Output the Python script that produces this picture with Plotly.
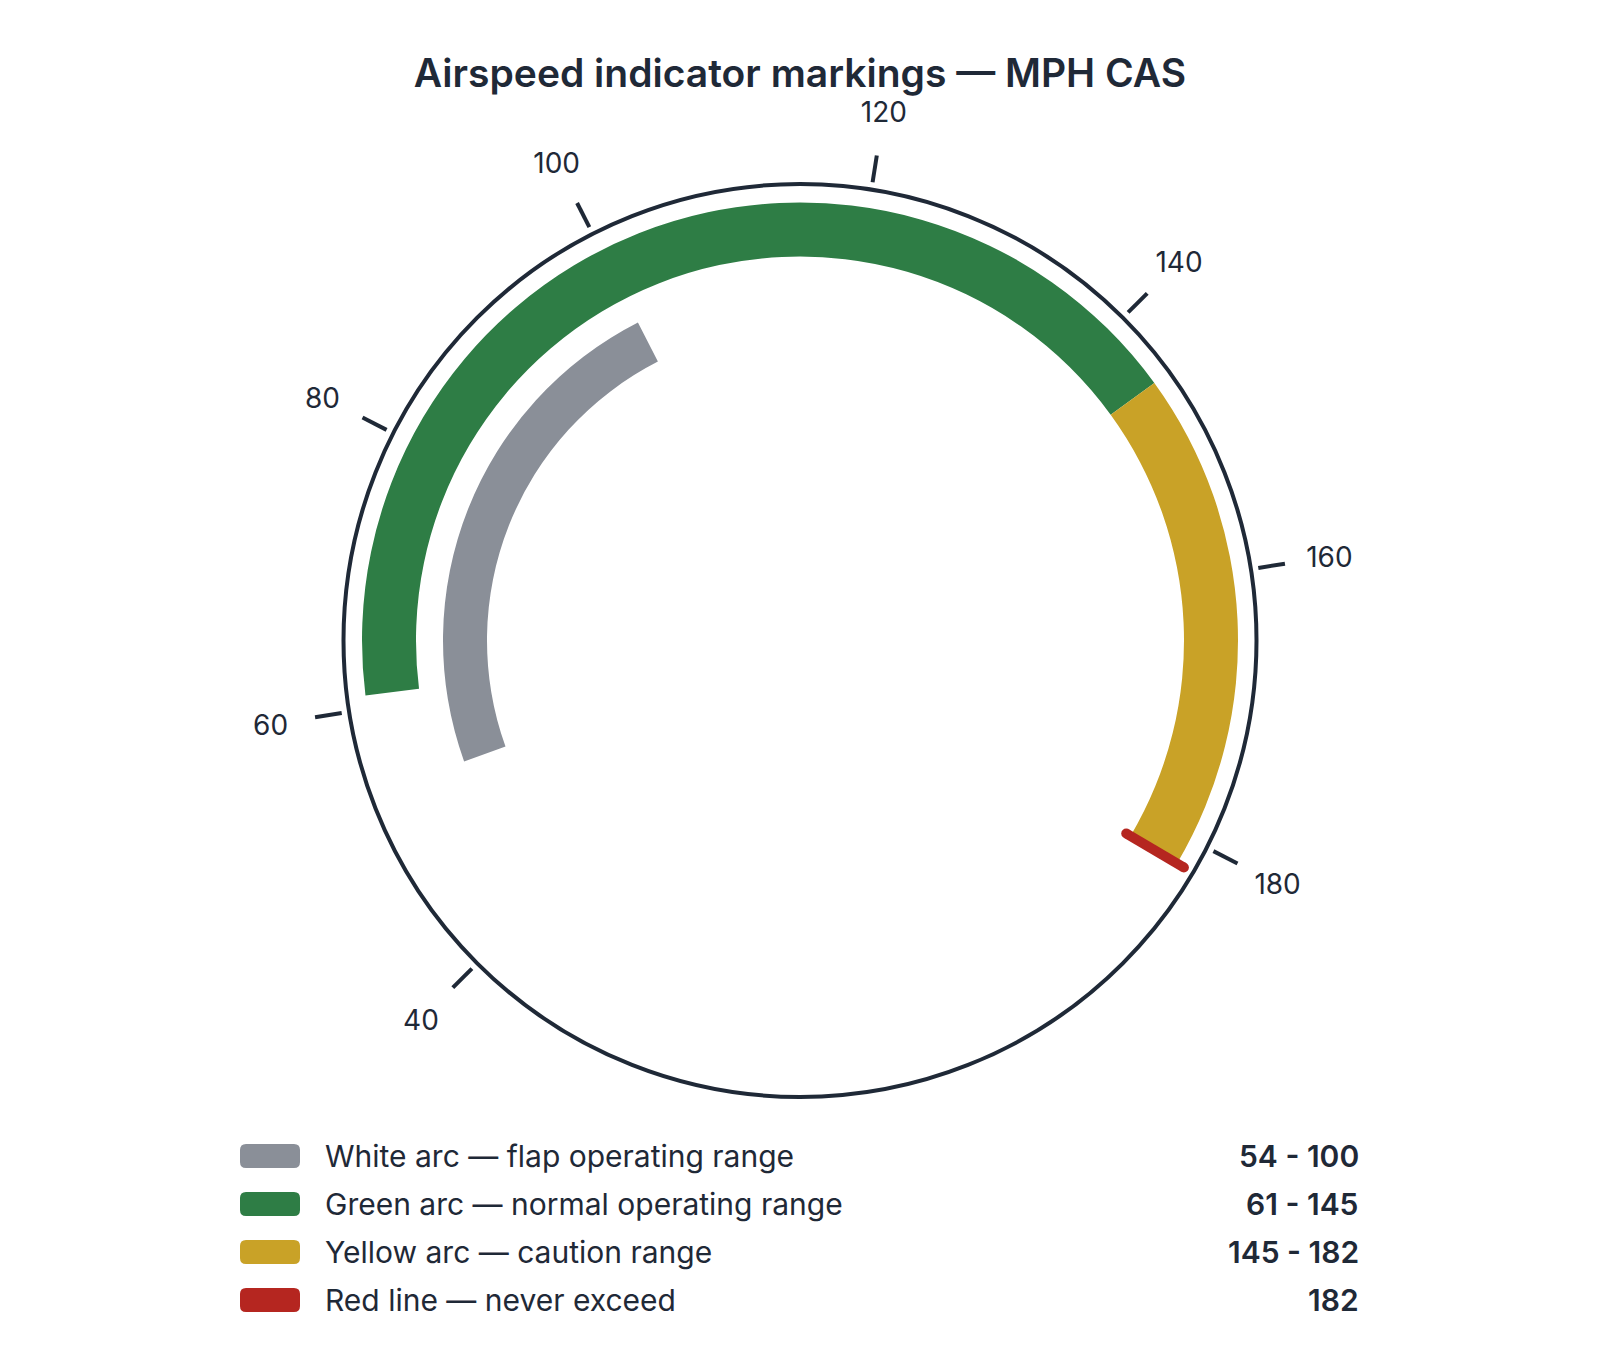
import plotly.graph_objects as go

# speeds in MPH CAS
arc_names = ["White arc — flap operating range", "Green arc — normal operating range", "Yellow arc — caution range"]
arc_start = [54, 61, 145]
arc_end = [100, 145, 182]
red_line_name = "Red line — never exceed"
red_line = 182
tick_speeds = [40, 60, 80, 100, 120, 140, 160, 180]

# dial setup
DIAL_MAX = 200            # full turn of the dial
DEG = 360 / DIAL_MAX
ROTATION = -63            # where speed 0 sits (deg, ccw from east)
R_OUT = 456.5             # radial units ~ pixels
R_TICK = (464, 491)
R_LABEL = 536
R_TEXT = 560              # outer polars used for ticks and labels
CX, CY = 800, 640.5       # dial centre on the page
LABEL_DY = 3.5            # text sits a touch high when centred

TEXT = "#1f2937"
FONT = "Inter"
arc_colors = ["#8a8f98", "#2e7d45", "#c9a227"]
red_color = "#b52620"
# ring (inner radius, thickness) for each arc
arc_rings = [(313, 44), (384, 54), (384, 54)]

# page body has an 8px margin, so the figure is a bit smaller and shifted
OFF = 8
W, H = 1600 - 2 * OFF, 1360 - 2 * OFF

def px(x):
  return (x - OFF) / W

def py(y):
  return 1 - (y - OFF) / H

def dom(r, dy=0):
  return dict(x=[px(CX - r), px(CX + r)], y=[py(CY + dy + r), py(CY + dy - r)])

fig = go.Figure()

for name, s, e, col, (base, thick) in zip(arc_names, arc_start, arc_end, arc_colors, arc_rings):
  fig.add_trace(go.Barpolar(
    theta=[(s + e) / 2 * DEG],
    width=[(e - s) * DEG],
    base=[base],
    r=[thick],
    marker=dict(color=col, line=dict(width=0)),
    name=name,
    hoverinfo="name",
    showlegend=False,
  ))

fig.add_trace(go.Scatterpolar(
  theta=[red_line * DEG, red_line * DEG],
  r=[379, 446],
  mode="lines+markers",
  line=dict(color=red_color, width=10),
  marker=dict(color=red_color, size=10),
  name=red_line_name,
  hoverinfo="name",
  showlegend=False,
))

# tick marks, detached a little from the dial rim
tick_theta, tick_r = [], []
for v in tick_speeds:
  tick_theta += [v * DEG, v * DEG, None]
  tick_r += [R_TICK[0], R_TICK[1], None]

fig.add_trace(go.Scatterpolar(
  theta=tick_theta,
  r=tick_r,
  mode="lines",
  line=dict(color=TEXT, width=4),
  hoverinfo="skip",
  showlegend=False,
  subplot="polar2",
))

fig.add_trace(go.Scatterpolar(
  theta=[v * DEG for v in tick_speeds],
  r=[R_LABEL] * len(tick_speeds),
  mode="text",
  text=[str(v) for v in tick_speeds],
  textposition="middle center",
  textfont=dict(size=28, color=TEXT, family=FONT),
  hoverinfo="skip",
  showlegend=False,
  subplot="polar3",
))

angular_common = dict(rotation=ROTATION, direction="clockwise", thetaunit="degrees", showgrid=False)
angular_bare = dict(**angular_common, showline=False, ticks="", showticklabels=False)

fig.update_layout(
  width=W,
  height=H,
  margin=dict(l=0, r=0, t=0, b=0),
  paper_bgcolor="white",
  plot_bgcolor="white",
  font=dict(family=FONT, color=TEXT),
  title=dict(
    text="Airspeed indicator markings — MPH CAS",
    x=px(CX), xanchor="center",
    y=py(73), yanchor="middle",
    font=dict(size=39, weight=600, color=TEXT, family=FONT),
  ),
  polar=dict(
    domain=dom(R_OUT),
    bgcolor="white",
    radialaxis=dict(range=[0, R_OUT], visible=False),
    angularaxis=dict(
      **angular_common,
      showline=True,
      linecolor=TEXT,
      linewidth=4,
      ticks="",
      showticklabels=False,
    ),
  ),
  polar2=dict(
    domain=dom(R_TEXT),
    bgcolor="rgba(0,0,0,0)",
    radialaxis=dict(range=[0, R_TEXT], visible=False),
    angularaxis=angular_bare,
  ),
  polar3=dict(
    domain=dom(R_TEXT, LABEL_DY),
    bgcolor="rgba(0,0,0,0)",
    radialaxis=dict(range=[0, R_TEXT], visible=False),
    angularaxis=angular_bare,
  ),
)

# custom legend with ranges on the right
legend_names = arc_names + [red_line_name]
legend_colors = arc_colors + [red_color]
legend_ranges = [f"{s} - {e}" for s, e in zip(arc_start, arc_end)] + [str(red_line)]

swatch = "M -24,-12 L 24,-12 Q 30,-12 30,-6 L 30,6 Q 30,12 24,12 L -24,12 Q -30,12 -30,6 L -30,-6 Q -30,-12 -24,-12 Z"
for i, (name, col, rng) in enumerate(zip(legend_names, legend_colors, legend_ranges)):
  yc = py(1156 + 48 * i)
  fig.add_shape(
    type="path", xref="paper", yref="paper",
    xsizemode="pixel", ysizemode="pixel",
    xanchor=px(270), yanchor=yc,
    path=swatch, fillcolor=col, line=dict(width=0),
  )
  fig.add_annotation(
    text=name, xref="paper", yref="paper",
    x=px(323), y=yc, xanchor="left", yanchor="middle",
    showarrow=False, font=dict(size=30, color=TEXT, family=FONT),
  )
  fig.add_annotation(
    text=rng, xref="paper", yref="paper",
    x=px(1361), y=yc, xanchor="right", yanchor="middle",
    showarrow=False, font=dict(size=30, color=TEXT, family=FONT, weight=600),
  )

fig.write_html("out.html")
